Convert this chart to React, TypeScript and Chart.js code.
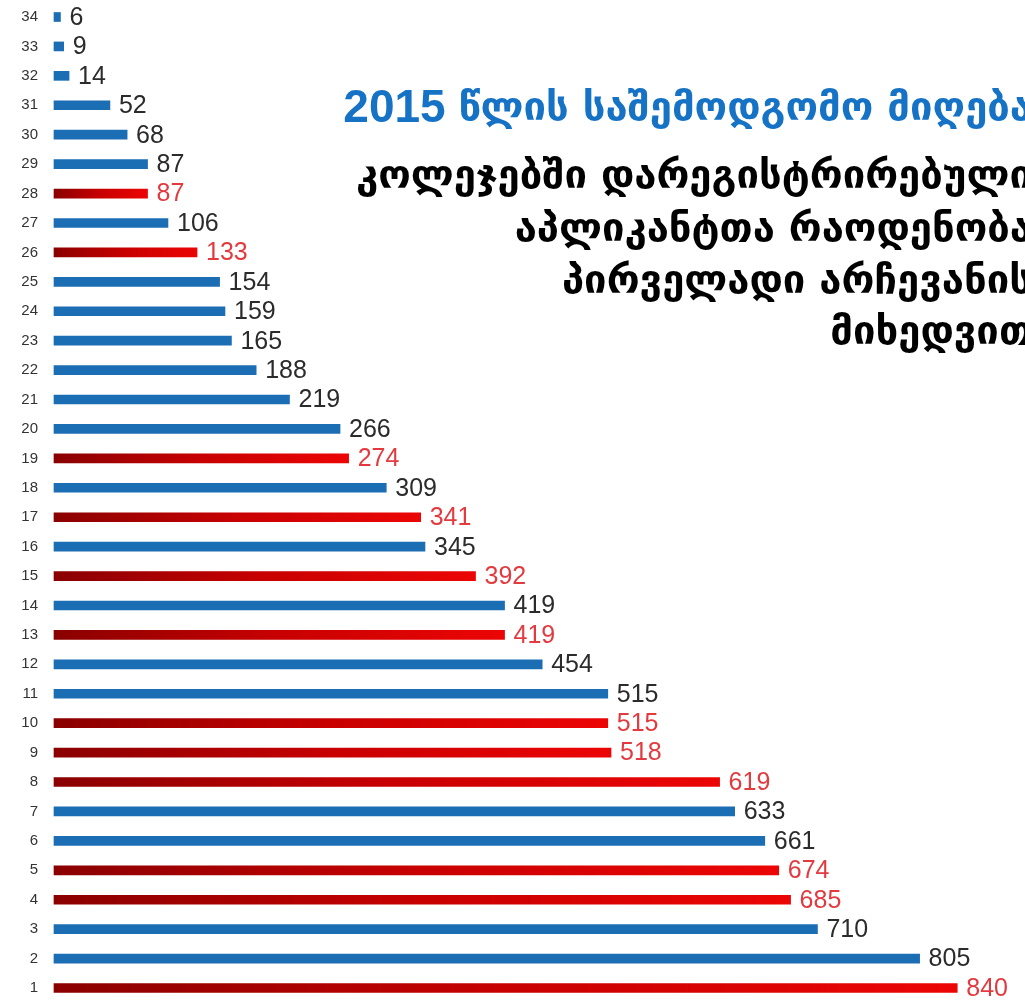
import React, { useEffect, useRef } from "react";
import { Chart, registerables } from "chart.js";

Chart.register(...registerables);

// Categories 1..34 (bottom to top)
const categories: string[] = Array.from({ length: 34 }, (_, i) => String(i + 1));
const values: number[] = [
  840, 805, 710, 685, 674, 661, 633, 619, 518, 515,
  515, 454, 419, 419, 392, 345, 341, 309, 274, 266,
  219, 188, 165, 159, 154, 133, 106, 87, 87, 68,
  52, 14, 9, 6,
];
// r = red (highlighted), b = blue
const groups: string[] = [
  "r", "b", "b", "r", "r", "b", "b", "r", "r", "r",
  "b", "b", "r", "b", "r", "b", "r", "b", "r", "b",
  "b", "b", "b", "b", "b", "r", "b", "r", "b", "b",
  "b", "b", "b", "b",
];
const titleYear = "2015 ";
const titleLine1 = "წლის საშემოდგომო მიღება";
const titleLines: string[] = [
  "კოლეჯებში დარეგისტრირებული",
  "აპლიკანტთა რაოდენობა",
  "პირველადი არჩევანის",
  "მიხედვით",
];

const BLUE = "#1b6db4";
const LABEL_DARK = "#2b2b2b";
const LABEL_RED = "#e23a3e";

const valueLabelPlugin = {
  id: "valueLabels",
  afterDatasetsDraw(chart: any) {
    const ctx = chart.ctx;
    const meta = chart.getDatasetMeta(0);
    ctx.save();
    ctx.font = '25px "Liberation Sans", Arial, sans-serif';
    ctx.textBaseline = "middle";
    ctx.textAlign = "left";
    meta.data.forEach((el: any, i: number) => {
      ctx.fillStyle = groups[i] === "r" ? LABEL_RED : LABEL_DARK;
      ctx.fillText(String(values[i]), el.x + 9, el.y + 1);
    });
    ctx.restore();
  },
};

const titlePlugin = {
  id: "sideTitle",
  afterDraw(chart: any) {
    const ctx = chart.ctx;
    const right = 1032;
    ctx.save();
    ctx.textAlign = "right";
    ctx.textBaseline = "alphabetic";
    // line 1
    ctx.fillStyle = "#1572c4";
    ctx.font = 'bold 40px "DejaVu Sans", sans-serif';
    const w = ctx.measureText(titleLine1).width;
    ctx.fillText(titleLine1, right, 120);
    ctx.font = 'bold 46px "Liberation Sans", Arial, sans-serif';
    ctx.fillText(titleYear, right - w, 122);
    // other lines
    ctx.fillStyle = "#000000";
    ctx.font = 'bold 40px "DejaVu Sans", sans-serif';
    const baselines = [188, 241, 293, 344];
    titleLines.forEach((t, i) => ctx.fillText(t, right, baselines[i]));
    ctx.restore();
  },
};

export default function App() {
  const ref = useRef<HTMLCanvasElement | null>(null);
  useEffect(() => {
    document.body.style.margin = "0";
    const canvas = ref.current!;
    const chart = new Chart(canvas, {
      type: "bar",
      data: {
        labels: categories,
        datasets: [
          {
            data: values,
            barThickness: 9,
            clip: false as any,
            backgroundColor: (c: any) => {
              if (c.type !== "data") return BLUE;
              const i = c.dataIndex;
              if (groups[i] !== "r") return BLUE;
              const xs = c.chart.scales.x;
              if (!xs) return "#cc0000";
              const x0 = xs.getPixelForValue(0);
              const x1 = xs.getPixelForValue(values[i]);
              if (!isFinite(x0) || !isFinite(x1) || x1 <= x0) return "#cc0000";
              const g = c.chart.ctx.createLinearGradient(x0, 0, x1, 0);
              g.addColorStop(0, "#8a0000");
              g.addColorStop(0.5, "#c80000");
              g.addColorStop(1, "#ec0505");
              return g;
            },
          },
        ],
      },
      options: {
        indexAxis: "y",
        responsive: false,
        animation: false,
        maintainAspectRatio: false,
        layout: { padding: { top: 17, bottom: 12, left: 0, right: 0 } },
        plugins: {
          legend: { display: false },
          tooltip: { enabled: false },
          title: { display: false },
        },
        scales: {
          x: { display: false, min: 0, max: 903 },
          y: {
            reverse: true,
            offset: false,
            grid: { display: false, drawTicks: false },
            border: { display: false },
            ticks: {
              color: "#333333",
              font: { family: '"Liberation Sans", Arial, sans-serif', size: 15 },
              padding: 16,
              autoSkip: false,
            },
            afterFit: (scale: any) => {
              scale.width = 54;
              scale.paddingTop = 0;
              scale.paddingBottom = 0;
            },
          },
        },
      } as any,
      plugins: [valueLabelPlugin, titlePlugin],
    });
    return () => chart.destroy();
  }, []);
  return (
    <div style={{ position: "absolute", left: 0, top: 0, width: 1025, height: 1000, background: "#fff" }}>
      <canvas ref={ref} width={1025} height={1000} style={{ display: "block" }} />
    </div>
  );
}
